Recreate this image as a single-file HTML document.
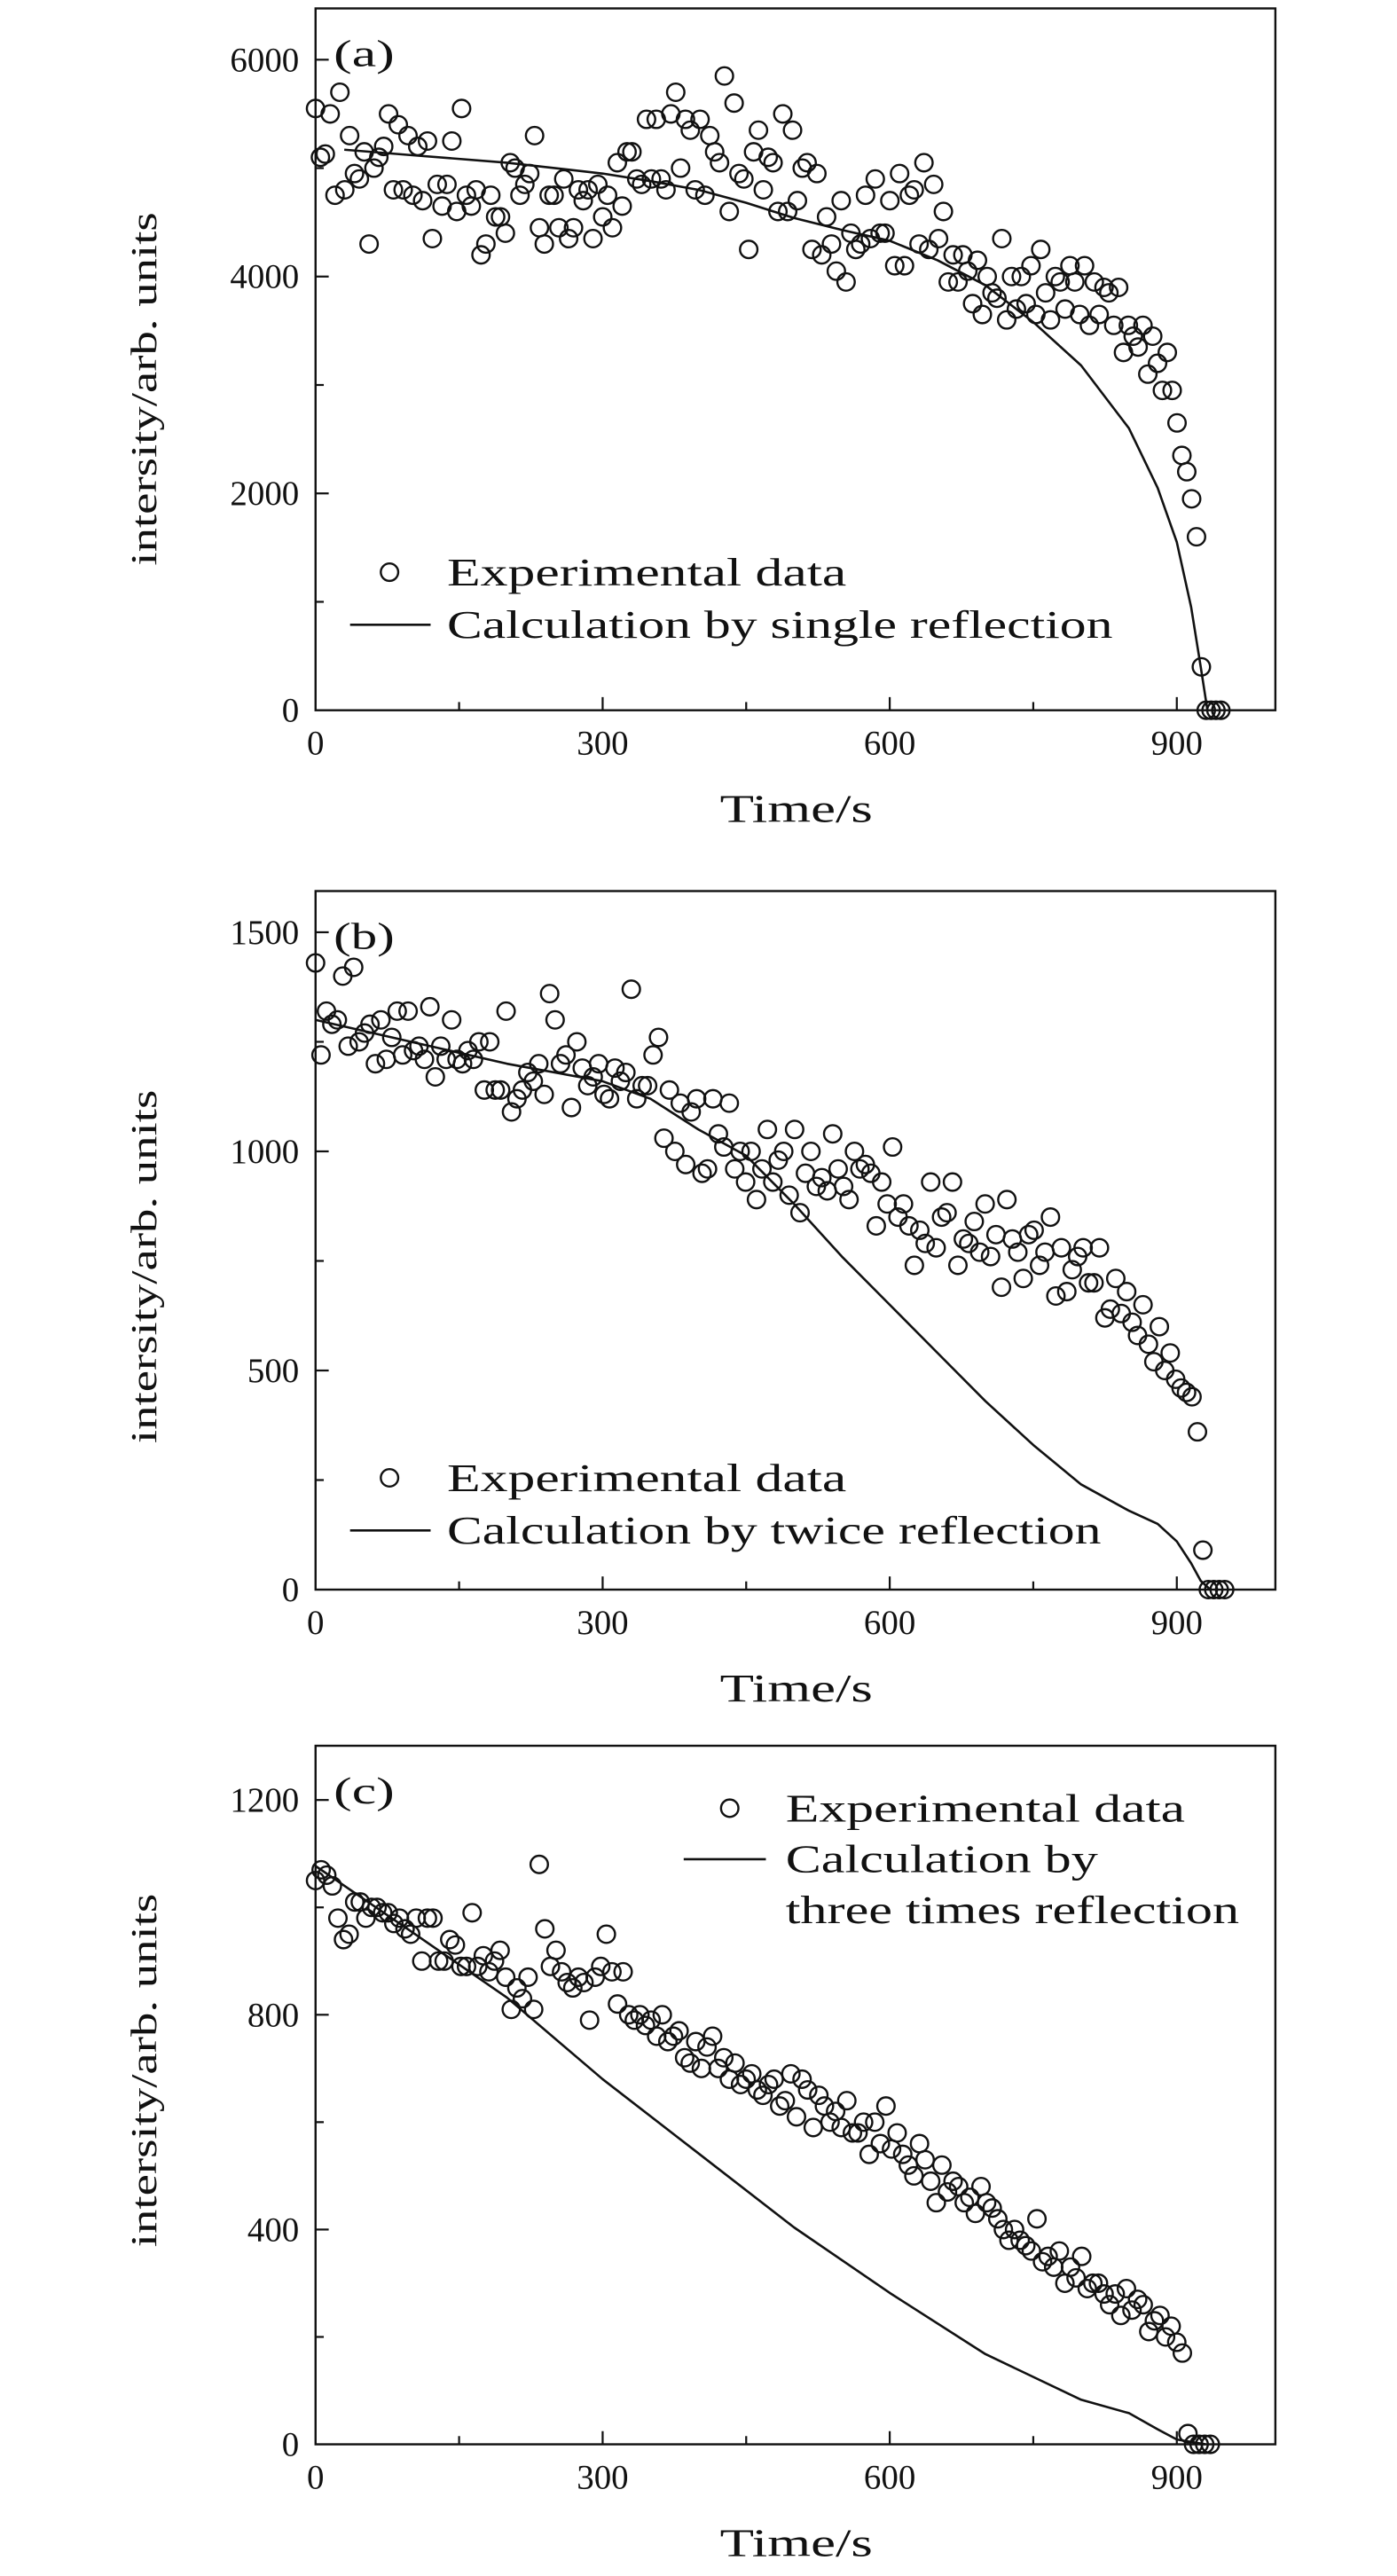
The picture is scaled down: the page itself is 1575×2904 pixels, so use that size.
<!DOCTYPE html>
<html><head><meta charset="utf-8"><style>
html,body{margin:0;padding:0;background:#fff}
svg{display:block}
text{font-family:"Liberation Serif",serif;fill:#111}
</style></head><body>
<svg id="fig" width="1575" height="2904" viewBox="0 0 850 1567" xmlns="http://www.w3.org/2000/svg"></svg>
<script>
// ---- data ----
const expA = [5550,5100,5130,5500,4750,5700,4800,5300,4950,4900,5150,4300,5000,5100,5200,5500,4800,5400,4800,5300,4750,5200,4700,5250,4350,4850,4650,4850,5250,4600,5550,4750,4650,4800,4200,4300,4750,4550,4550,4400,5050,5000,4750,4850,4950,5300,4450,4300,4750,4750,4450,4900,4350,4450,4800,4700,4800,4350,4850,4550,4750,4450,5050,4650,5150,5150,4900,4850,5450,4900,5450,4900,4800,5500,5700,5000,5450,5350,4800,5450,4750,5300,5150,5050,5850,4600,5600,4950,4900,4250,5150,5350,4800,5100,5050,4600,5500,4600,5350,4700,5000,5050,4250,4950,4200,4550,4300,4050,4700,3950,4400,4250,4300,4750,4350,4900,4400,4400,4700,4100,4950,4100,4750,4800,4300,5050,4250,4850,4350,4600,3950,4200,3950,4200,4050,3750,4150,3650,4000,3850,3800,4350,3600,4000,3700,4000,3750,4100,3650,4250,3850,3600,4000,3950,3700,4100,3950,3650,4100,3550,3950,3650,3900,3850,3550,3900,3300,3550,3450,3350,3550,3100,3450,3200,2950,3300,2950,2650,2350,2200,1950,1600,400,0,0,0,0];
const lastTA = 946;
const calcTA = [30,100,200,300,350,400,450,500,550,600,650,700,750,800,850,880,900,915,925,932];
const calcVA = [5170,5120,5050,4950,4880,4800,4680,4540,4430,4330,4150,3920,3580,3180,2600,2050,1550,950,400,0];

const expB = [1430,1220,1320,1290,1300,1400,1240,1420,1250,1270,1290,1200,1300,1210,1260,1320,1220,1320,1230,1240,1210,1330,1170,1240,1210,1300,1210,1200,1230,1210,1250,1140,1250,1140,1140,1320,1090,1120,1140,1180,1160,1200,1130,1360,1300,1200,1220,1100,1250,1190,1150,1170,1200,1130,1120,1190,1160,1180,1370,1120,1150,1150,1220,1260,1030,1140,1000,1110,970,1090,1120,950,960,1120,1040,1010,1110,960,1000,930,1000,890,960,1050,930,980,1000,900,1050,860,950,1000,920,940,910,1040,960,920,890,1000,960,970,950,830,930,880,1010,850,880,830,740,820,790,930,780,850,860,930,740,800,790,840,770,880,760,810,690,890,800,770,710,810,820,740,770,850,670,780,680,730,760,780,700,700,780,620,640,710,630,680,610,580,650,560,520,600,500,540,480,460,450,440,360,90,0,0,0,0];
const lastTB = 950;
const calcTB = [0,100,200,300,350,400,450,500,550,600,650,700,750,800,850,880,900,915,925,935];
const calcVB = [1300,1250,1200,1160,1120,1050,990,880,760,650,540,430,330,240,180,150,110,60,20,0];

const expC = [1050,1070,1060,1040,980,940,950,1010,1010,980,1000,1000,990,990,970,980,960,950,980,900,980,980,900,900,940,930,890,890,990,890,910,880,900,920,870,810,850,830,870,810,1080,960,890,920,880,860,850,870,860,790,870,890,950,880,820,880,800,790,800,780,790,760,800,750,760,770,720,710,750,700,740,760,700,720,680,710,670,680,690,660,650,670,680,630,640,690,610,680,660,590,650,630,600,620,590,640,580,580,600,540,600,560,630,550,580,540,520,500,560,530,490,450,520,470,490,480,450,460,430,480,450,440,420,400,380,400,380,370,360,420,340,350,330,360,300,330,310,350,290,300,300,280,260,280,240,290,250,270,260,210,230,240,200,220,190,170,20,0,0,0,0];
const lastTC = 935;
const calcTC = [0,100,200,300,400,500,600,700,800,850,880,900,930];
const calcVC = [1077,955,832,680,542,404,282,168,83,58,28,9,0];

const xTicks = [0,300,600,900];
const yTicksA = [0,2000,4000,6000];
const yTicksB = [0,500,1000,1500];
const yTicksC = [0,400,800,1200];

const NS = "http://www.w3.org/2000/svg";
const svg = document.getElementById('fig');
function mk(tag, attrs, parent){const e=document.createElementNS(NS,tag);for(const k in attrs)e.setAttribute(k,attrs[k]);(parent||svg).appendChild(e);return e;}
function stretch(el,len){el.setAttribute('textLength',len);el.setAttribute('lengthAdjust','spacingAndGlyphs');}

function panel(cfg){
  const L=192,R=776,T=cfg.top,B=cfg.bottom;
  const xMax=1003;
  const yTop=cfg.yMaxTop;
  const sx=v=>L+(v/xMax)*(R-L);
  const sy=v=>B-(v/yTop)*(B-T);
  const g=mk('g',{});
  
  
  const box=mk('rect',{x:L,y:T,width:R-L,height:B-T,fill:'none',stroke:'#111','stroke-width':1.3},g);
  
  
  [150,300,450,600,750,900].forEach(v=>{
    const major=v%300===0;
    const t=mk('line',{x1:sx(v),x2:sx(v),y1:B,y2:B-(major?8:5),stroke:'#111','stroke-width':1.2},g);
    
    
  });
  xTicks.forEach(v=>{
    const t=mk('text',{x:sx(v),y:B+27,'text-anchor':'middle','font-size':21},g);
    t.textContent=v;
    
    
  });
  const yt=cfg.yTicks;
  const step=yt[1]-yt[0];
  for(let v=step/2; v<yTop; v+=step/2){
    const major=Math.abs((v/step)-Math.round(v/step))<1e-6;
    const t=mk('line',{x1:L,x2:L+(major?8:5),y1:sy(v),y2:sy(v),stroke:'#111','stroke-width':1.2},g);
    
    
  }
  yt.forEach(v=>{
    const t=mk('text',{x:L-10,y:sy(v)+7,'text-anchor':'end','font-size':21},g);
    t.textContent=v;
    
    
  });
  const pl=mk('text',{x:L+11,y:T+35,'font-size':23},g);
  pl.textContent='('+cfg.id+')';
  stretch(pl,37);
  
  
  const xt=mk('text',{x:438,y:B+68,'font-size':24},g);
  xt.textContent='Time/s';
  stretch(xt,93);
  
  
  const cy=cfg.ytc;
  const ytl=mk('text',{x:cy-107,y:95,'font-size':22,transform:`rotate(-90 ${cy} ${cy}) translate(0 0)`},g);
  ytl.setAttribute('transform',`translate(95 ${cy+107}) rotate(-90)`);
  ytl.setAttribute('x',0);ytl.setAttribute('y',0);
  ytl.textContent='intersity/arb. units';
  stretch(ytl,215);
  
  
  let d='';
  cfg.calcT.forEach((t,i)=>{d+=(i?'L':'M')+sx(t).toFixed(2)+' '+sy(cfg.calcV[i]).toFixed(2);});
  const c=mk('path',{d:d,fill:'none',stroke:'#111','stroke-width':1.4,'stroke-linejoin':'round'},g);
  
  
  const n=cfg.exp.length;
  cfg.exp.forEach((v,i)=>{
    const t=i*cfg.lastT/(n-1);
    const p=mk('circle',{cx:sx(t),cy:sy(v),r:5.3,fill:'none',stroke:'#111','stroke-width':1.3},g);
    
    
  });
  const lg=cfg.legend;
  const lc=mk('circle',{cx:lg.cx,cy:lg.cy,r:5.3,fill:'none',stroke:'#111','stroke-width':1.3},g);
  
  
  const l1=mk('text',{x:lg.tx,y:lg.cy+8,'font-size':24},g);
  l1.textContent='Experimental data';
  stretch(l1,243);
  
  
  const ll=mk('line',{x1:lg.lx1,x2:lg.lx2,y1:lg.ly,y2:lg.ly,stroke:'#111','stroke-width':1.4},g);
  
  
  lg.lines.forEach((s,i)=>{
    const l2=mk('text',{x:lg.tx,y:lg.ly+8+i*31,'font-size':24},g);
    l2.textContent=s;
    stretch(l2,lg.lens[i]);
    
    
  });
}
panel({id:'a',top:5,bottom:432,yMaxTop:6473,yTicks:yTicksA,exp:expA,lastT:lastTA,calcT:calcTA,calcV:calcVA,ytc:237,
  legend:{cx:237,cy:348,tx:272,lx1:213,lx2:262,ly:380,lines:['Calculation by single reflection'],lens:[405]}});
panel({id:'b',top:542,bottom:967,yMaxTop:1594,yTicks:yTicksB,exp:expB,lastT:lastTB,calcT:calcTB,calcV:calcVB,ytc:771,
  legend:{cx:237,cy:899,tx:272,lx1:213,lx2:262,ly:931,lines:['Calculation by twice reflection'],lens:[398]}});
panel({id:'c',top:1062,bottom:1487,yMaxTop:1301,yTicks:yTicksC,exp:expC,lastT:lastTC,calcT:calcTC,calcV:calcVC,ytc:1260,
  legend:{cx:444,cy:1100,tx:478,lx1:416,lx2:466,ly:1131,lines:['Calculation by','three times reflection'],lens:[190,276]}});
</script>
</body></html>
